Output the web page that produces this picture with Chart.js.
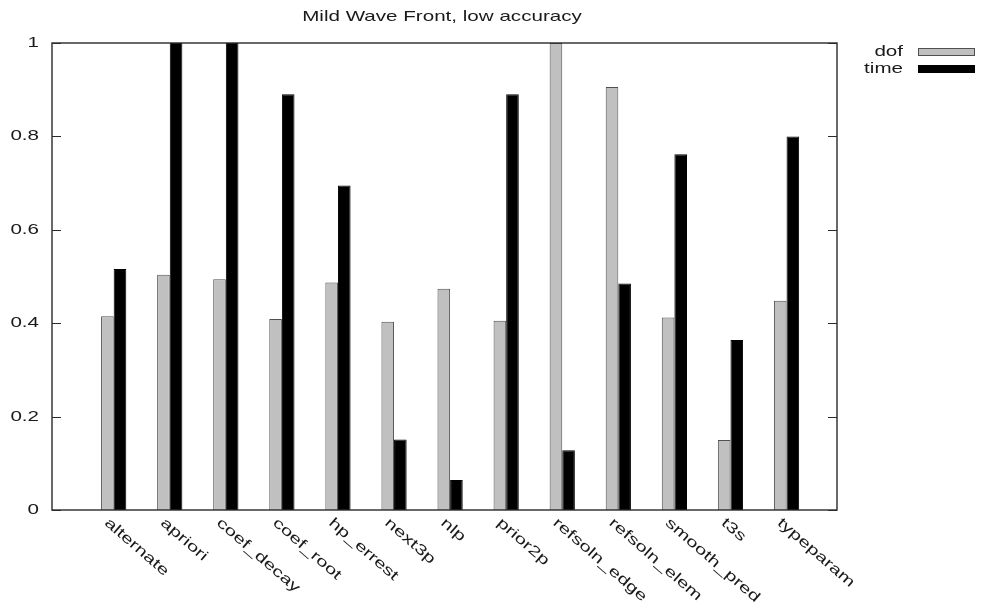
<!DOCTYPE html>
<html>
<head>
<meta charset="utf-8">
<title>Mild Wave Front, low accuracy</title>
<script src="https://cdn.jsdelivr.net/npm/chart.js@4.4.1/dist/chart.umd.min.js"></script>
<style>
  html, body { margin: 0; padding: 0; background: #fff; }
  #wrap { position: relative; width: 981px; height: 602px; }
</style>
</head>
<body>
<div id="wrap"><canvas id="chart"></canvas></div>
<script>
// strategies and their normalised results
const categories = ['alternate', 'apriori', 'coef_decay', 'coef_root', 'hp_errest', 'next3p', 'nlp',
    'prior2p', 'refsoln_edge', 'refsoln_elem', 'smooth_pred', 't3s', 'typeparam'];
const dofValues = [0.415, 0.504, 0.494, 0.409, 0.487, 0.403, 0.474, 0.405, 1.0, 0.906, 0.412, 0.150, 0.448];
const timeValues = [0.516, 1.0, 1.0, 0.890, 0.695, 0.151, 0.064, 0.890, 0.128, 0.485, 0.762, 0.364, 0.800];
const yTickValues = [0, 0.2, 0.4, 0.6, 0.8, 1];
const yTickLabels = ['0', '0.2', '0.4', '0.6', '0.8', '1'];
const chartTitle = 'Mild Wave Front, low accuracy';

const FONT = '14.5px "Liberation Sans", Arial, Helvetica, sans-serif';
const TEXT_COLOR = '#1a1a1a';
const SX = 1.42;           // wide glyphs
const LABEL_ANGLE = 41 * Math.PI / 180;

function drawText(ctx, str, x, y, align, baseline, angle) {
    ctx.save();
    ctx.translate(x, y);
    if (angle) ctx.rotate(angle);
    ctx.scale(SX, 1);
    ctx.font = FONT;
    ctx.fillStyle = TEXT_COLOR;
    ctx.textAlign = align;
    ctx.textBaseline = baseline;
    ctx.fillText(str, 0, 0);
    ctx.restore();
}

// frame, inward ticks, labels, title and key
const decorations = {
    id: 'decorations',
    afterDraw(chart) {
        const ctx = chart.ctx;
        const area = chart.chartArea;
        const xs = chart.scales.x;
        const ys = chart.scales.y;

        ctx.save();
        ctx.strokeStyle = '#2a2a2a';
        ctx.lineWidth = 1.4;
        ctx.strokeRect(area.left, area.top, area.right - area.left, area.bottom - area.top);

        ctx.lineWidth = 1;
        ctx.beginPath();
        yTickValues.forEach(v => {
            const y = Math.round(ys.getPixelForValue(v)) + 0.5;
            ctx.moveTo(area.left, y);
            ctx.lineTo(area.left + 9, y);
            ctx.moveTo(area.right - 9, y);
            ctx.lineTo(area.right, y);
        });
        ctx.stroke();
        ctx.restore();

        yTickValues.forEach((v, i) => {
            drawText(ctx, yTickLabels[i], area.left - 13, ys.getPixelForValue(v), 'right', 'middle');
        });

        categories.forEach((name, i) => {
            const cx = xs.getPixelForValue(i);
            drawText(ctx, name, cx - 10, area.bottom + 14, 'left', 'alphabetic', LABEL_ANGLE);
        });

        drawText(ctx, chartTitle, 442, 21, 'center', 'alphabetic');

        // key
        const ds = chart.data.datasets;
        const keyRows = [52, 69];
        ds.forEach((d, i) => {
            const y = keyRows[i];
            drawText(ctx, d.label, 903, y, 'right', 'middle');
            ctx.save();
            ctx.fillStyle = d.backgroundColor;
            ctx.fillRect(918, y - 4, 57, 8);
            ctx.strokeStyle = d.borderColor;
            ctx.lineWidth = 1;
            ctx.strokeRect(918.5, y - 3.5, 56, 7);
            ctx.restore();
        });
    }
};

const ctx = document.getElementById('chart');
new Chart(ctx, {
    type: 'bar',
    data: {
        datasets: [
            {
                label: 'dof',
                data: dofValues.map((v, i) => ({ x: i, y: v })),
                backgroundColor: '#c0c0c0',
                borderColor: '#505050',
                borderWidth: 1
            },
            {
                label: 'time',
                data: timeValues.map((v, i) => ({ x: i, y: v })),
                backgroundColor: '#000000',
                borderColor: '#000000',
                borderWidth: 1
            }
        ]
    },
    options: {
        responsive: true,
        maintainAspectRatio: false,
        animation: false,
        categoryPercentage: 0.5,
        barPercentage: 1.0,
        layout: { padding: { left: 52, top: 43, right: 144, bottom: 92 } },
        plugins: {
            legend: { display: false },
            title: { display: false },
            tooltip: { enabled: false }
        },
        scales: {
            x: { type: 'linear', min: -1.1, max: 12.9, offset: false, display: false },
            y: { min: 0, max: 1, display: false }
        }
    },
    plugins: [decorations]
});
</script>
</body>
</html>
